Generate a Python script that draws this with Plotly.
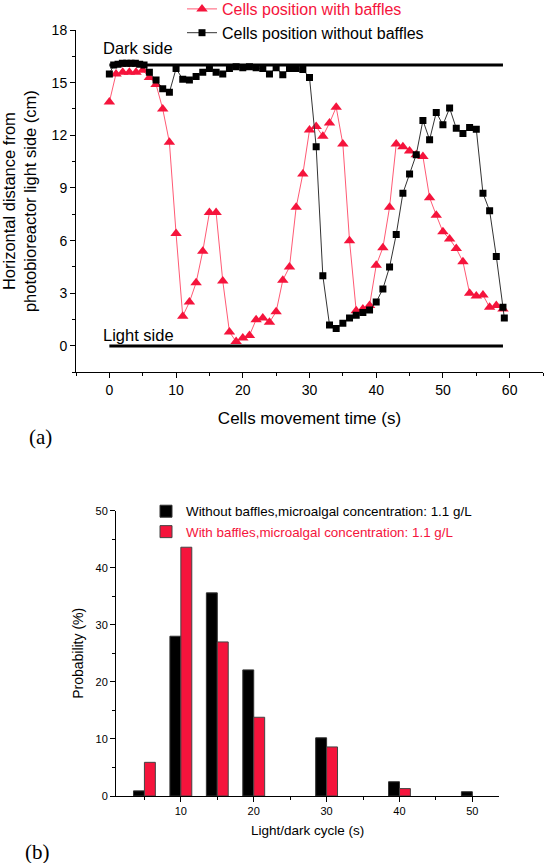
import plotly.graph_objects as go

# ---------------- data: panel (a) ----------------
time_with = [0, 1, 2, 3, 4, 5, 6, 7, 8, 9,
             10, 11, 12, 13, 14, 15, 16, 17, 18, 19,
             20, 21, 22, 23, 24, 25, 26, 27, 28, 29,
             30, 31, 32, 33, 34, 35, 36, 37, 38, 39,
             40, 41, 42, 43, 44, 45, 46, 47, 48, 49,
             50, 51, 52, 53, 54, 55, 56, 57, 58, 59]
pos_with = [13.9, 15.5, 15.6, 15.6, 15.6, 15.7, 15.3, 14.9, 13.5, 11.6,
            6.4, 1.7, 2.5, 3.6, 5.4, 7.6, 7.6, 3.7, 0.8, 0.25,
            0.45, 0.6, 1.5, 1.6, 1.35, 1.95, 3.75, 4.5, 7.9, 9.8,
            12.3, 12.5, 11.95, 12.7, 13.6, 11.5, 6.0, 2.0, 2.1, 2.3,
            4.6, 5.6, 7.9, 11.5, 11.35, 11.1, 10.9, 10.8, 8.45, 7.45,
            6.5, 6.1, 5.55, 4.8, 3.0, 2.85, 2.9, 2.2, 2.3, 2.1]

time_without = [0, 0.65, 1.3, 1.95, 2.6, 3.25, 3.9, 4.55, 5.2,
                6, 7, 8, 9, 10, 11, 12, 13, 14, 15, 16, 17, 18, 19,
                20, 21, 22, 23, 24, 25, 26, 27, 28, 29,
                30, 31, 32, 33, 34, 35, 36, 37, 38, 39,
                40, 41, 42, 43, 44, 45, 46, 47, 48, 49,
                50, 51, 52, 53, 54, 55, 56, 57, 58, 59, 59.2]
pos_without = [15.5, 16.0, 16.05, 16.1, 16.1, 16.1, 16.1, 16.05, 16.0,
               15.6, 15.15, 14.65, 14.45, 15.8, 15.2, 15.15, 15.35, 15.6, 15.8, 15.6, 15.5, 15.8, 15.9,
               15.85, 15.9, 15.85, 15.8, 15.5, 15.85, 15.45, 15.8, 15.8, 15.75,
               15.3, 11.35, 4.0, 1.2, 1.0, 1.3, 1.6, 1.75, 1.9, 2.05,
               2.5, 3.25, 4.5, 6.35, 8.7, 9.8, 10.9, 12.85, 11.75, 13.3,
               12.6, 13.55, 12.4, 12.1, 12.45, 12.35, 8.7, 7.7, 5.1, 2.2, 1.6]

side_x = [0, 59]
dark_side = 16
light_side = 0

# ---------------- data: panel (b) ----------------
cycle_s = [5, 10, 15, 20, 30, 40, 50]
prob_without = [0.9, 28.0, 35.6, 22.1, 10.2, 2.5, 0.75]
prob_with = [5.9, 43.6, 27.0, 13.8, 8.6, 1.3, None]

RED = "#F5143C"
RED_LINE = "#FF5A74"
FONT = "Arial, Liberation Sans, sans-serif"

# plot area in pixels: left 76, right 543, top 30, bottom 796
W, H = 545, 863
ML, MR, MT, MB = 76, 2, 30, 67
PW, PH = W - ML - MR, H - MT - MB


def px_x(p):
    return (p - ML) / PW


def px_y(p):
    return (H - MB - p) / PH


fig = go.Figure()

# boundary lines
fig.add_trace(go.Scatter(x=side_x, y=[dark_side, dark_side], mode="lines",
                         line=dict(color="black", width=3), showlegend=False,
                         hoverinfo="skip", xaxis="x", yaxis="y"))
fig.add_trace(go.Scatter(x=side_x, y=[light_side, light_side], mode="lines",
                         line=dict(color="black", width=3), showlegend=False,
                         hoverinfo="skip", xaxis="x", yaxis="y"))

fig.add_trace(go.Scatter(
    x=time_with, y=pos_with, mode="lines+markers",
    name="<span style='color:%s'>Cells position with baffles</span>" % RED,
    line=dict(color=RED_LINE, width=1),
    marker=dict(symbol="triangle-up", size=10, color=RED),
    xaxis="x", yaxis="y", legend="legend"))
fig.add_trace(go.Scatter(
    x=time_without, y=pos_without, mode="lines+markers",
    name="Cells position without baffles",
    line=dict(color="#333333", width=1),
    marker=dict(symbol="square", size=7, color="black"),
    xaxis="x", yaxis="y", legend="legend"))

fig.add_trace(go.Bar(
    x=cycle_s, y=prob_without, width=1.5, offset=-1.5,
    name="Without baffles,microalgal concentration: 1.1 g/L",
    marker=dict(color="black", line=dict(color="#333333", width=1)),
    xaxis="x2", yaxis="y2", legend="legend2"))
fig.add_trace(go.Bar(
    x=cycle_s, y=prob_with, width=1.5, offset=0,
    name="<span style='color:%s'>With baffles,microalgal concentration: 1.1 g/L</span>" % RED,
    marker=dict(color=RED, line=dict(color="#444444", width=1)),
    xaxis="x2", yaxis="y2", legend="legend2"))

axis_common = dict(showline=True, linecolor="black", linewidth=1, mirror=False,
                   showgrid=False, zeroline=False, ticks="outside", ticklen=5,
                   tickcolor="black", automargin=False)

fig.update_layout(
    width=W, height=H,
    margin=dict(l=ML, r=MR, t=MT, b=MB, pad=0, autoexpand=False),
    paper_bgcolor="white", plot_bgcolor="white",
    font=dict(family=FONT, color="black"),
    barmode="overlay",
    xaxis=dict(domain=[0, 1], range=[-5, 65], dtick=10, tick0=0,
               minor=dict(dtick=5, ticks="outside", ticklen=3, tickcolor="black"),
               tickfont=dict(size=14),
               title=dict(text="Cells movement time (s)", font=dict(size=17), standoff=15),
               anchor="y", **axis_common),
    yaxis=dict(domain=[px_y(372.3), 1], range=[-1.5, 18], dtick=3, tick0=0,
               minor=dict(dtick=1.5, ticks="outside", ticklen=3, tickcolor="black"),
               tickfont=dict(size=14),
               title=dict(text="Horizontal distance from<br>photobioreactor light side (cm)",
                          font=dict(size=16.5), standoff=10),
               anchor="x", **axis_common),
    xaxis2=dict(domain=[px_x(116), px_x(499.3)], range=[1.1, 53.7], dtick=10, tick0=0,
                minor=dict(dtick=5, ticks="outside", ticklen=3, tickcolor="black"),
                tickfont=dict(size=11),
                title=dict(text="Light/dark cycle (s)", font=dict(size=13.5), standoff=9),
                anchor="y2", **axis_common),
    yaxis2=dict(domain=[0, px_y(510.7)], range=[0, 50], dtick=10, tick0=0,
                minor=dict(dtick=5, ticks="outside", ticklen=3, tickcolor="black"),
                tickfont=dict(size=11),
                title=dict(text="Probability (%)", font=dict(size=14), standoff=8),
                anchor="x2", **axis_common),
    legend=dict(x=px_x(182), y=px_y(-8), xanchor="left", yanchor="top",
                bgcolor="rgba(0,0,0,0)", font=dict(size=16, family=FONT),
                tracegroupgap=0),
    legend2=dict(x=px_x(146), y=px_y(496), xanchor="left", yanchor="top",
                 bgcolor="rgba(0,0,0,0)", font=dict(size=13.4, family=FONT),
                 tracegroupgap=0),
    annotations=[
        dict(text="Dark side", x=-1.2, y=17.0, xref="x", yref="y",
             xanchor="left", yanchor="middle", showarrow=False,
             font=dict(size=16.5, family=FONT)),
        dict(text="Light side", x=-1.2, y=0.6, xref="x", yref="y",
             xanchor="left", yanchor="middle", showarrow=False,
             font=dict(size=16.5, family=FONT)),
        dict(text="(a)", x=px_x(40), y=px_y(437), xref="paper", yref="paper",
             xanchor="center", yanchor="middle", showarrow=False,
             font=dict(size=21, family="Times New Roman, Liberation Serif, serif")),
        dict(text="(b)", x=px_x(37), y=px_y(852), xref="paper", yref="paper",
             xanchor="center", yanchor="middle", showarrow=False,
             font=dict(size=21, family="Times New Roman, Liberation Serif, serif")),
    ],
)

fig.write_html("out.html", config={"displayModeBar": False},
               post_script="document.body.style.margin='0';")
